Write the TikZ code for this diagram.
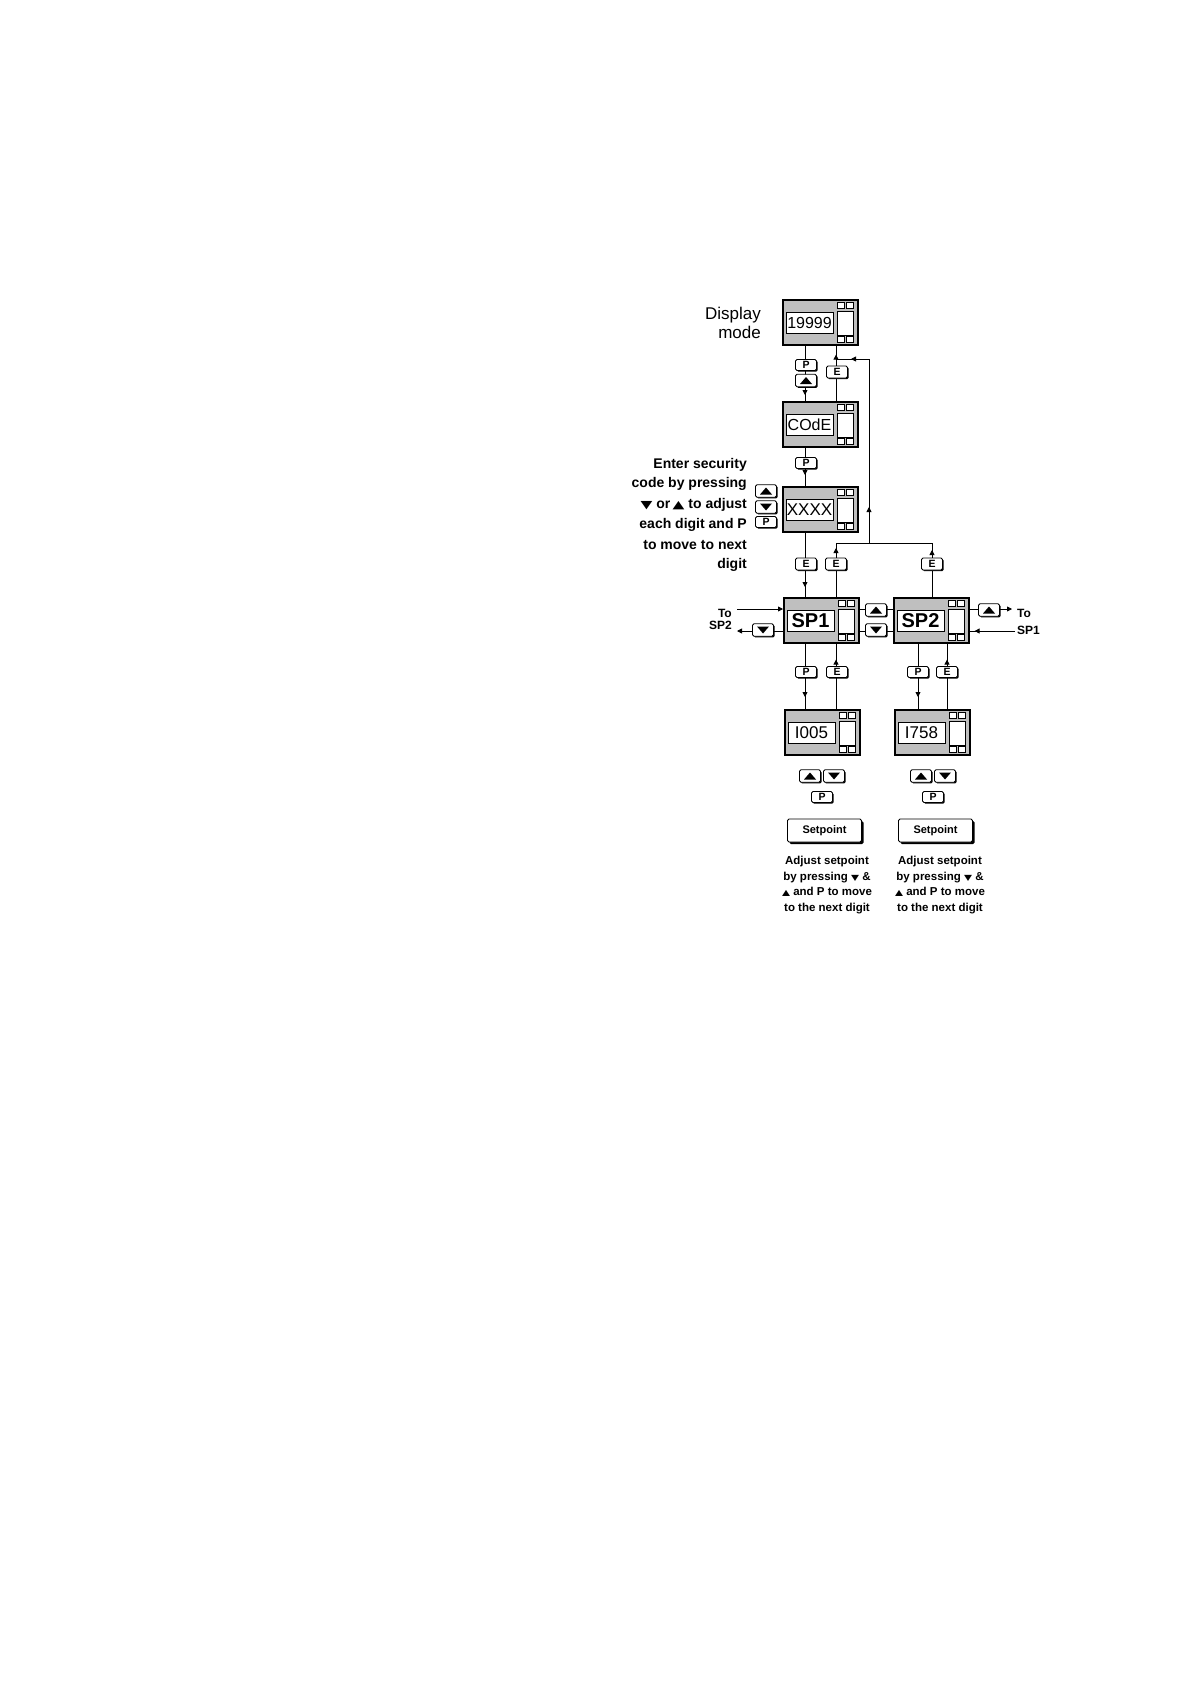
\documentclass[tikz,border=0pt]{standalone}
\usepackage{fontspec}
\setmainfont{Liberation Sans}
\newfontfamily\symf{DejaVu Sans}
\usetikzlibrary{calc,arrows.meta,shadows,decorations.markings}

\tikzset{
 disp/.style={draw,line width=1.6pt,fill=black!25,minimum width=75pt,minimum height=45pt,inner sep=0pt,anchor=north west},
 win/.style={draw,fill=white,line width=1pt},
 sq/.style={draw,fill=white,line width=0.8pt},
 btn/.style={draw,fill=white,line width=0.9pt,rounded corners=1.5pt,minimum width=21pt,minimum height=11pt,inner sep=0pt,
   font=\bfseries\fontsize{10.5}{10.5}\selectfont,drop shadow={shadow xshift=1.2pt,shadow yshift=-1.2pt,opacity=1,fill=black}},
 tbtn/.style={btn,minimum height=12.5pt},
 bigbtn/.style={draw,fill=white,line width=0.9pt,rounded corners=1.5pt,minimum width=74pt,minimum height=23pt,inner sep=0pt,
   font=\bfseries\fontsize{11}{11}\selectfont,drop shadow={shadow xshift=2pt,shadow yshift=-2pt,opacity=1,fill=black}},
 conn/.style={line width=0.8pt},
 tipat/.style={postaction={decorate},decoration={markings,mark=at position #1 with {\arrow{Triangle[length=5pt,width=5pt]}}}},
 endtip/.style={-{Triangle[length=5pt,width=5pt]}},
 lbl/.style={font=\bfseries\fontsize{14}{14}\selectfont,inner sep=0pt},
 sml/.style={font=\bfseries\fontsize{11.5}{11.5}\selectfont,inner sep=0pt},
 tolbl/.style={font=\bfseries\fontsize{12}{12}\selectfont,inner sep=0pt},
}

\newcommand\dispbox[4]{%
 \node[disp] (#1) at (#2,#3) {};
 \draw[win] ($(#1.north west)+(4,13)$) rectangle +(47,21);
 \draw[win] ($(#1.north west)+(55,12)$) rectangle +(16,24);
 \draw[sq] ($(#1.north west)+(55,3.5)$) rectangle +(7.5,5.5);
 \draw[sq] ($(#1.north west)+(64,3.5)$) rectangle +(7.5,5.5);
 \draw[sq] ($(#1.north west)+(55,37.5)$) rectangle +(7.5,5.5);
 \draw[sq] ($(#1.north west)+(64,37.5)$) rectangle +(7.5,5.5);
 \node[inner sep=0pt] (#1-t) at ($(#1.north west)+(27.5,23.5)$) {#4};
}
\newcommand\upbtn[3]{%
 \node[tbtn] (#1) at (#2,#3) {};
 \fill ($(#1)+(-6,3.5)$) -- ($(#1)+(6,3.5)$) -- ($(#1)+(0,-3.5)$) -- cycle;
}
\newcommand\dnbtn[3]{%
 \node[tbtn] (#1) at (#2,#3) {};
 \fill ($(#1)+(-6,-3.5)$) -- ($(#1)+(6,-3.5)$) -- ($(#1)+(0,3.5)$) -- cycle;
}
\newcommand\dtri{\scalebox{1.4}[1]{\symf\fontsize{11}{11}\selectfont ▼}}
\newcommand\utri{\scalebox{1.4}[1]{\symf\fontsize{11}{11}\selectfont ▲}}
\newcommand\dtris{\scalebox{1.3}[1]{\symf\fontsize{8}{8}\selectfont ▼}}
\newcommand\utris{\scalebox{1.3}[1]{\symf\fontsize{8}{8}\selectfont ▲}}

\begin{document}
\begin{tikzpicture}[x=1pt,y=-1pt]
\path[use as bounding box,fill=white] (0,0) rectangle (1190,1684);

% display boxes
\dispbox{dA}{782}{299}{\fontsize{16}{16}\selectfont 19999}
\dispbox{dB}{782}{401}{\fontsize{16}{16}\selectfont COdE}
\dispbox{dC}{782}{486}{\fontsize{17}{17}\selectfont XXXX}
\dispbox{dS1}{783}{597}{\bfseries\fontsize{20}{20}\selectfont SP1}
\dispbox{dS2}{893}{597}{\bfseries\fontsize{20}{20}\selectfont SP2}
\dispbox{dV1}{784}{709}{\fontsize{17}{17}\selectfont I005}
\dispbox{dV2}{894}{709}{\fontsize{17}{17}\selectfont I758}

% helper coordinates
\coordinate (xP1) at (805,0);
\coordinate (xE1) at (836,0);
\coordinate (xR) at (869,0);
\coordinate (xE2) at (932,0);
\coordinate (xP2) at (918,0);
\coordinate (xE3) at (947,0);
\coordinate (yR1) at (0,609);
\coordinate (yR2) at (0,631);
\coordinate (yJ) at (0,543);
\coordinate (yT) at (0,359);
\coordinate (jL) at (yJ -| xE1);
\coordinate (jM) at (yJ -| xR);
\coordinate (jR) at (yJ -| xE2);
\coordinate (tR) at (yT -| xR);
\coordinate (tL) at (yT -| xE1);

% side labels
\node[tolbl,anchor=base east] (toL) at (732,617.5) {To};
\node[tolbl,anchor=base east] (spL) at (732,629.5) {SP2};
\node[tolbl,anchor=base west] (toR) at (1017,617.5) {To};
\node[tolbl,anchor=base west] (spR) at (1017,634.5) {SP1};

% connectors
\draw[conn,tipat=-6pt] (dA.south -| xP1) -- (dB.north -| xP1);
\draw[conn,tipat=-9pt] (dB.north -| xE1) -- (dA.south -| xE1);
\draw[conn,tipat=-11pt] (dB.south -| xP1) -- (dC.north -| xP1);
\draw[conn,tipat=-10pt] (dC.south -| xP1) -- (dS1.north -| xP1);
\draw[conn,tipat=-5pt] (dS1.north -| xE1) -- (jL);
\draw[conn,tipat=-7pt] (dS2.north -| xE2) -- (jR);
\draw[conn] (jL) -- (jR);
\draw[conn,tipat=36pt] (jM) -- (tR);
\draw[conn,tipat=18pt] (tR) -- (tL);
\draw[conn,tipat=-12pt] (dS1.south -| xP1) -- (dV1.north -| xP1);
\draw[conn,tipat=-16pt] (dV1.north -| xE1) -- (dS1.south -| xE1);
\draw[conn,tipat=-12pt] (dS2.south -| xP2) -- (dV2.north -| xP2);
\draw[conn,tipat=-16pt] (dV2.north -| xE3) -- (dS2.south -| xE3);
\draw[conn] (dS1.east |- yR1) -- (dS2.west |- yR1);
\draw[conn] (dS2.west |- yR2) -- (dS1.east |- yR2);
\draw[conn,endtip,shorten >=5pt] (dS2.east |- yR1) -- (toR.west |- yR1);
\draw[conn,tipat=-5pt,shorten <=2pt] (spR.west |- yR2) -- (dS2.east |- yR2);
\draw[conn,endtip,shorten <=5pt] (toL.east |- yR1) -- (dS1.west |- yR1);
\draw[conn,endtip,shorten >=5pt] (dS1.west |- yR2) -- (spL.east |- yR2);

% buttons
\node[btn] (bP1) at (806,365) {P};
\upbtn{bU1}{806}{380.5}
\node[btn,minimum height=12pt] (bE1) at (837,372) {E};
\node[btn] (bP2) at (806,463) {P};
\upbtn{bU2}{766}{491}
\dnbtn{bD2}{766}{507}
\node[btn] (bP3) at (766,522) {P};
\node[btn,minimum height=12pt] (bE2) at (806,564) {E};
\node[btn,minimum height=12pt] (bE3) at (836,564) {E};
\node[btn,minimum height=12pt] (bE4) at (932,564) {E};
\dnbtn{bD3}{763}{630}
\upbtn{bU4}{876}{610}
\dnbtn{bD4}{876}{630}
\upbtn{bU5}{989}{610}
\node[btn] (bP4) at (806,672) {P};
\node[btn] (bE5) at (837,672) {E};
\node[btn] (bP5) at (918,672) {P};
\node[btn] (bE6) at (947,672) {E};
\upbtn{bU6}{810}{776}
\dnbtn{bD6}{834}{776}
\node[btn] (bP6) at (822,797) {P};
\upbtn{bU7}{921}{776}
\dnbtn{bD7}{945}{776}
\node[btn] (bP7) at (933,797) {P};
\node[bigbtn] (sp1btn) at (824.5,830.5) {Setpoint};
\node[bigbtn] (sp2btn) at (935.5,830.5) {Setpoint};

% labels
\node[anchor=base east,inner sep=0pt,font=\fontsize{17}{17}\selectfont] (lD1) at (761,319) {Display};
\node[anchor=base east,inner sep=0pt,font=\fontsize{17}{17}\selectfont] (lD2) at (761,338) {mode};

\node[lbl,anchor=base east] (lE1) at (747,468) {Enter security};
\node[lbl,anchor=base east] (lE2) at (747,487) {code by pressing};
\node[lbl,anchor=base east] (lE3) at (747,508) {\dtri\ or\,\utri\ to adjust};
\node[lbl,anchor=base east] (lE4) at (747,528) {each digit and P};
\node[lbl,anchor=base east] (lE5) at (747,549) {to move to next};
\node[lbl,anchor=base east] (lE6) at (747,568) {digit};

\node[sml,anchor=base] (lA1) at (827,864.5) {Adjust setpoint};
\node[sml,anchor=base] (lA2) at (827,880.5) {by pressing \dtris\ \&};
\node[sml,anchor=base] (lA3) at (827,895.5) {\utris\ and P to move};
\node[sml,anchor=base] (lA4) at (827,911.5) {to the next digit};
\node[sml,anchor=base] (lB1) at (940,864.5) {Adjust setpoint};
\node[sml,anchor=base] (lB2) at (940,880.5) {by pressing \dtris\ \&};
\node[sml,anchor=base] (lB3) at (940,895.5) {\utris\ and P to move};
\node[sml,anchor=base] (lB4) at (940,911.5) {to the next digit};
\end{tikzpicture}
\end{document}
